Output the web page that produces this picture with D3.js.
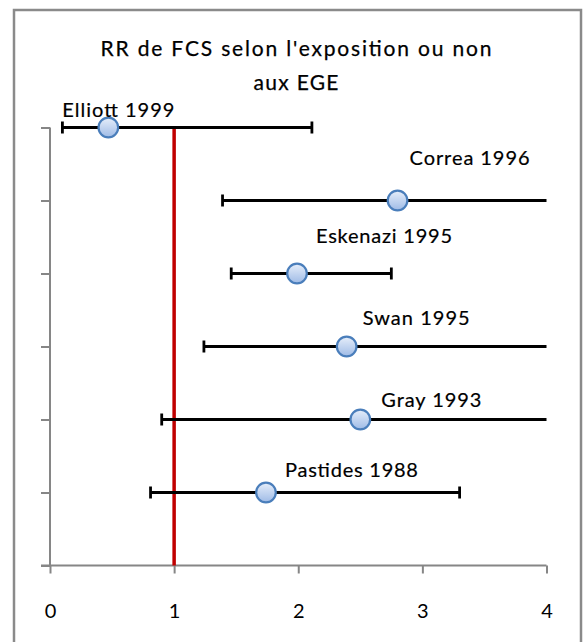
<!DOCTYPE html>
<html>
<head>
<meta charset="utf-8">
<script src="https://cdn.jsdelivr.net/npm/d3@7"></script>
<style>
  html, body { margin: 0; padding: 0; background: #fff; }
  svg { display: block; }
</style>
</head>
<body>
<svg id="chart" width="584" height="642"></svg>
<script>
// Studies, relative risks and 95% confidence limits
const studies = ["Elliott 1999", "Correa 1996", "Eskenazi 1995", "Swan 1995", "Gray 1993", "Pastides 1988"];
const rr      = [0.47, 2.80, 1.99, 2.39, 2.50, 1.74];
const ciLow   = [0.10, 1.39, 1.46, 1.24, 0.90, 0.81];
const ciHigh  = [2.11, 5.60, 2.75, 4.70, 6.90, 3.30];
const rowPos  = [6, 5, 4, 3, 2, 1];
const xTicks  = [0, 1, 2, 3, 4];
const title   = ["RR de FCS selon l'exposition ou non", "aux EGE"];

// Label layout: baseline offset from each marker and rendered width (pixels)
const labelOffsets = [[-46, -11], [12, -36], [19, -30.5], [16, -22], [21, -13], [19, -15.5]];
const labelWidths  = [112, 120, 136, 107, 100, 133];
const titleWidths  = [391, 85];

const font = "Lato, 'Open Sans', sans-serif";
const svg = d3.select("#chart");

// Chart frame
svg.append("rect")
  .attr("x", 14).attr("y", 10)
  .attr("width", 567).attr("height", 660)
  .attr("fill", "#fff").attr("stroke", "#8a8a8a").attr("stroke-width", 2.5);

const x = d3.scaleLinear().domain([0, 4]).range([50, 546.5]);
const y = d3.scaleLinear().domain([0, 6]).range([565.5, 127.5]);

// Title
svg.append("text")
  .attr("text-anchor", "middle")
  .attr("font-family", font).attr("font-size", 21).attr("fill", "#000")
  .attr("stroke", "#000").attr("stroke-width", 0.25)
  .selectAll("tspan").data(title).join("tspan")
  .attr("x", 296).attr("y", (d, i) => 56 + i * 34)
  .attr("textLength", (d, i) => titleWidths[i]).attr("lengthAdjust", "spacing")
  .text(d => d);

// Axes
const xAxis = svg.append("g")
  .attr("transform", `translate(0,${y(0)})`)
  .call(d3.axisBottom(x).tickValues(xTicks).tickSize(8).tickPadding(30).tickFormat(d3.format("d")));
xAxis.select(".domain").attr("d", `M${x(0) - 9},0H${x(4)}`);

const yAxis = svg.append("g")
  .attr("transform", `translate(${x(0)},0)`)
  .call(d3.axisLeft(y).tickValues(d3.range(0, 7)).tickSize(9).tickFormat(""));
yAxis.select(".domain").attr("d", `M0,${y(6)}V${y(0)}`);

svg.selectAll(".domain, .tick line").attr("stroke", "#868686").attr("stroke-width", 2);
xAxis.selectAll(".tick text")
  .attr("font-family", font).attr("font-size", 20).attr("fill", "#000");

// Reference line at RR = 1
svg.append("line")
  .attr("x1", x(1)).attr("x2", x(1))
  .attr("y1", y(6) - 1).attr("y2", y(0))
  .attr("stroke", "#c00000").attr("stroke-width", 3.5);

// Confidence interval bars
const rows = studies.map((s, i) => ({ s, rr: rr[i], lo: ciLow[i], hi: ciHigh[i], pos: rowPos[i], off: labelOffsets[i], w: labelWidths[i] }));
const [xmin, xmax] = x.domain();

const bars = svg.append("g").selectAll("g").data(rows).join("g");
bars.append("line")
  .attr("x1", d => x(Math.max(d.lo, xmin))).attr("x2", d => x(Math.min(d.hi, xmax)))
  .attr("y1", d => y(d.pos)).attr("y2", d => y(d.pos))
  .attr("stroke", "#000").attr("stroke-width", 2.8);
bars.filter(d => d.lo >= xmin).append("line")
  .attr("x1", d => x(d.lo)).attr("x2", d => x(d.lo))
  .attr("y1", d => y(d.pos) - 6).attr("y2", d => y(d.pos) + 6)
  .attr("stroke", "#000").attr("stroke-width", 2.8);
bars.filter(d => d.hi <= xmax).append("line")
  .attr("x1", d => x(d.hi)).attr("x2", d => x(d.hi))
  .attr("y1", d => y(d.pos) - 6).attr("y2", d => y(d.pos) + 6)
  .attr("stroke", "#000").attr("stroke-width", 2.8);

// Markers
const defs = svg.append("defs");
const grad = defs.append("linearGradient").attr("id", "marker-fill")
  .attr("x1", 0).attr("y1", 0).attr("x2", 0).attr("y2", 1);
grad.append("stop").attr("offset", "0%").attr("stop-color", "#e6eefa");
grad.append("stop").attr("offset", "100%").attr("stop-color", "#9fbbe6");

svg.append("g").selectAll("circle").data(rows).join("circle")
  .attr("cx", d => x(d.rr)).attr("cy", d => y(d.pos)).attr("r", 9.8)
  .attr("fill", "url(#marker-fill)").attr("stroke", "#4a7ebb").attr("stroke-width", 2.2);

// Study labels
svg.append("g").selectAll("text").data(rows).join("text")
  .attr("x", d => x(d.rr) + d.off[0]).attr("y", d => y(d.pos) + d.off[1])
  .attr("textLength", d => d.w).attr("lengthAdjust", "spacing")
  .attr("font-family", font).attr("font-size", 20).attr("fill", "#000")
  .attr("stroke", "#000").attr("stroke-width", 0.2)
  .text(d => d.s);
</script>
</body>
</html>
